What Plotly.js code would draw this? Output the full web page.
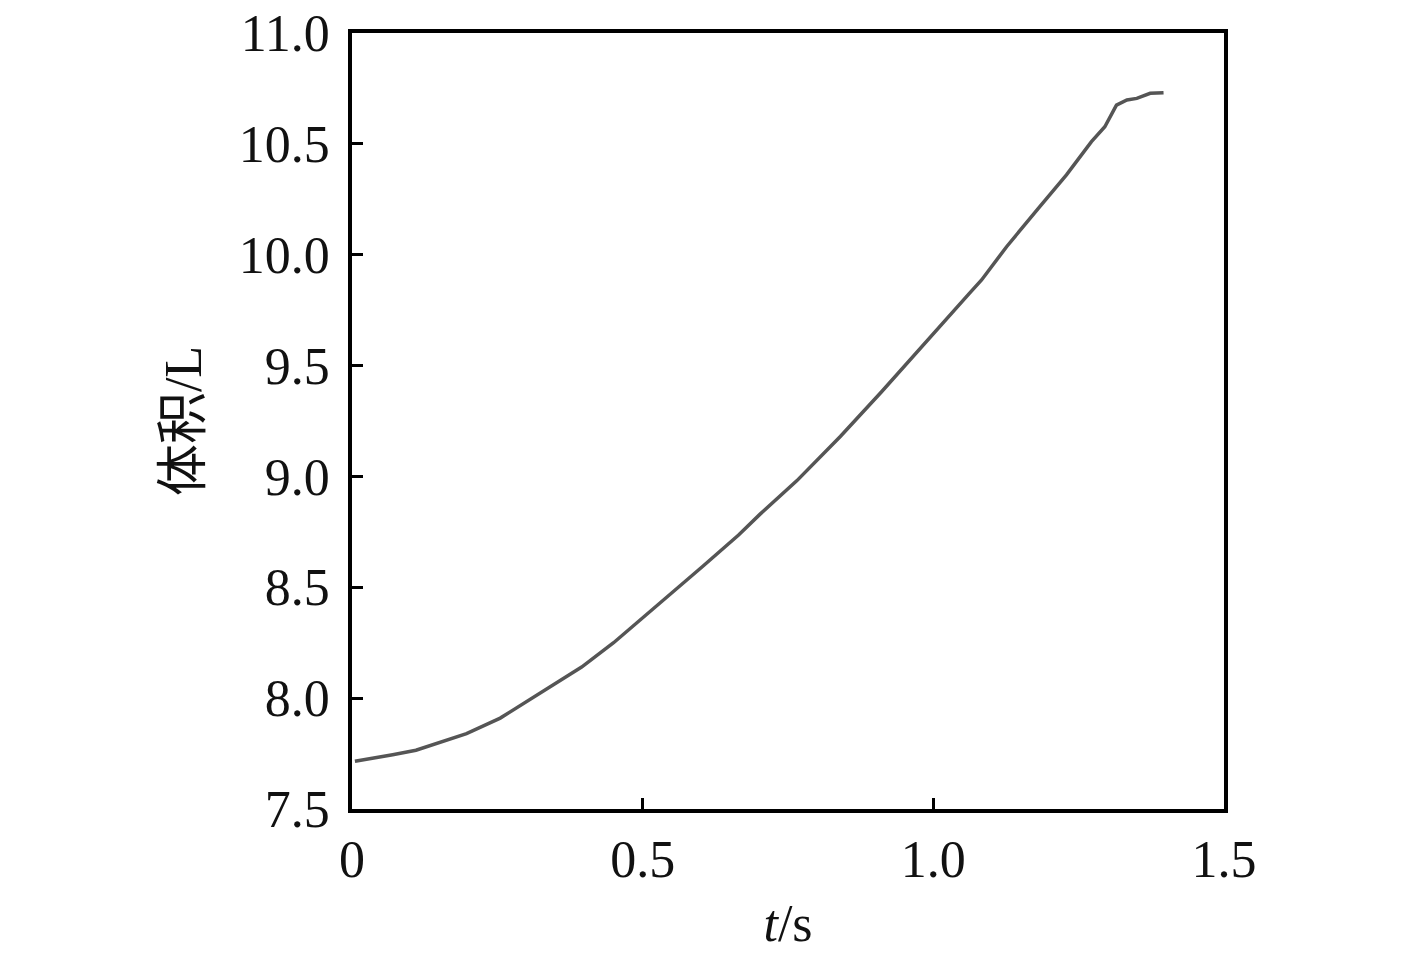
<!DOCTYPE html>
<html>
<head>
<meta charset="utf-8">
<script src="https://cdn.plot.ly/plotly-3.0.1.min.js"></script>
<style>html,body{margin:0;padding:0;background:#fff;}#chart{width:1417px;height:953px;}</style>
</head>
<body>
<div id="chart"></div>
<script>
const timeS = [0.005, 0.04, 0.07, 0.11, 0.14, 0.197, 0.255, 0.323, 0.395, 0.45, 0.513, 0.556, 0.604, 0.665, 0.702, 0.765, 0.84, 0.911, 0.977, 1.02, 1.062, 1.083, 1.126, 1.181, 1.229, 1.272, 1.295, 1.315, 1.333, 1.35, 1.373, 1.396];
const volumeL = [7.715, 7.73, 7.745, 7.765, 7.79, 7.84, 7.91, 8.02, 8.14, 8.25, 8.39, 8.49, 8.596, 8.736, 8.83, 8.98, 9.18, 9.382, 9.578, 9.705, 9.826, 9.886, 10.036, 10.21, 10.36, 10.51, 10.577, 10.675, 10.698, 10.705, 10.728, 10.731];
const xTickVals = [0, 0.5, 1.0, 1.5];
const xTickText = ["0", "0.5", "1.0", "1.5"];
const yTickVals = [7.5, 8.0, 8.5, 9.0, 9.5, 10.0, 10.5, 11.0];

const fontFam = "Liberation Serif, Times New Roman, Noto Sans CJK SC, serif";

Plotly.newPlot('chart', [{
  x: timeS, y: volumeL, type: 'scatter', mode: 'lines',
  line: {color: '#555555', width: 3.5}
}], {
  width: 1417, height: 953,
  margin: {l: 352, r: 193, t: 33, b: 144},
  paper_bgcolor: '#fff', plot_bgcolor: '#fff',
  showlegend: false,
  font: {family: fontFam, size: 52, color: '#111'},
  xaxis: {
    range: [0, 1.5], tickvals: xTickVals, ticktext: xTickText,
    ticks: 'inside', ticklen: 11, tickwidth: 3, tickcolor: '#000',
    showline: true, linewidth: 3.5, linecolor: '#000', mirror: true,
    showgrid: false, zeroline: false, ticklabelstandoff: 2,
    title: {text: '<i>t</i>/s', font: {family: fontFam, size: 52, color: '#111'}, standoff: 18}
  },
  yaxis: {
    range: [7.5, 11.0], tickvals: yTickVals, tickformat: '.1f',
    ticks: 'inside', ticklen: 11, tickwidth: 3, tickcolor: '#000',
    showline: true, linewidth: 3.5, linecolor: '#000', mirror: true,
    showgrid: false, zeroline: false, ticklabelstandoff: 8,
    title: {text: '体积/L', font: {family: fontFam, size: 52, color: '#111'}, standoff: 22}
  }
}, {displayModeBar: false});
</script>
</body>
</html>
